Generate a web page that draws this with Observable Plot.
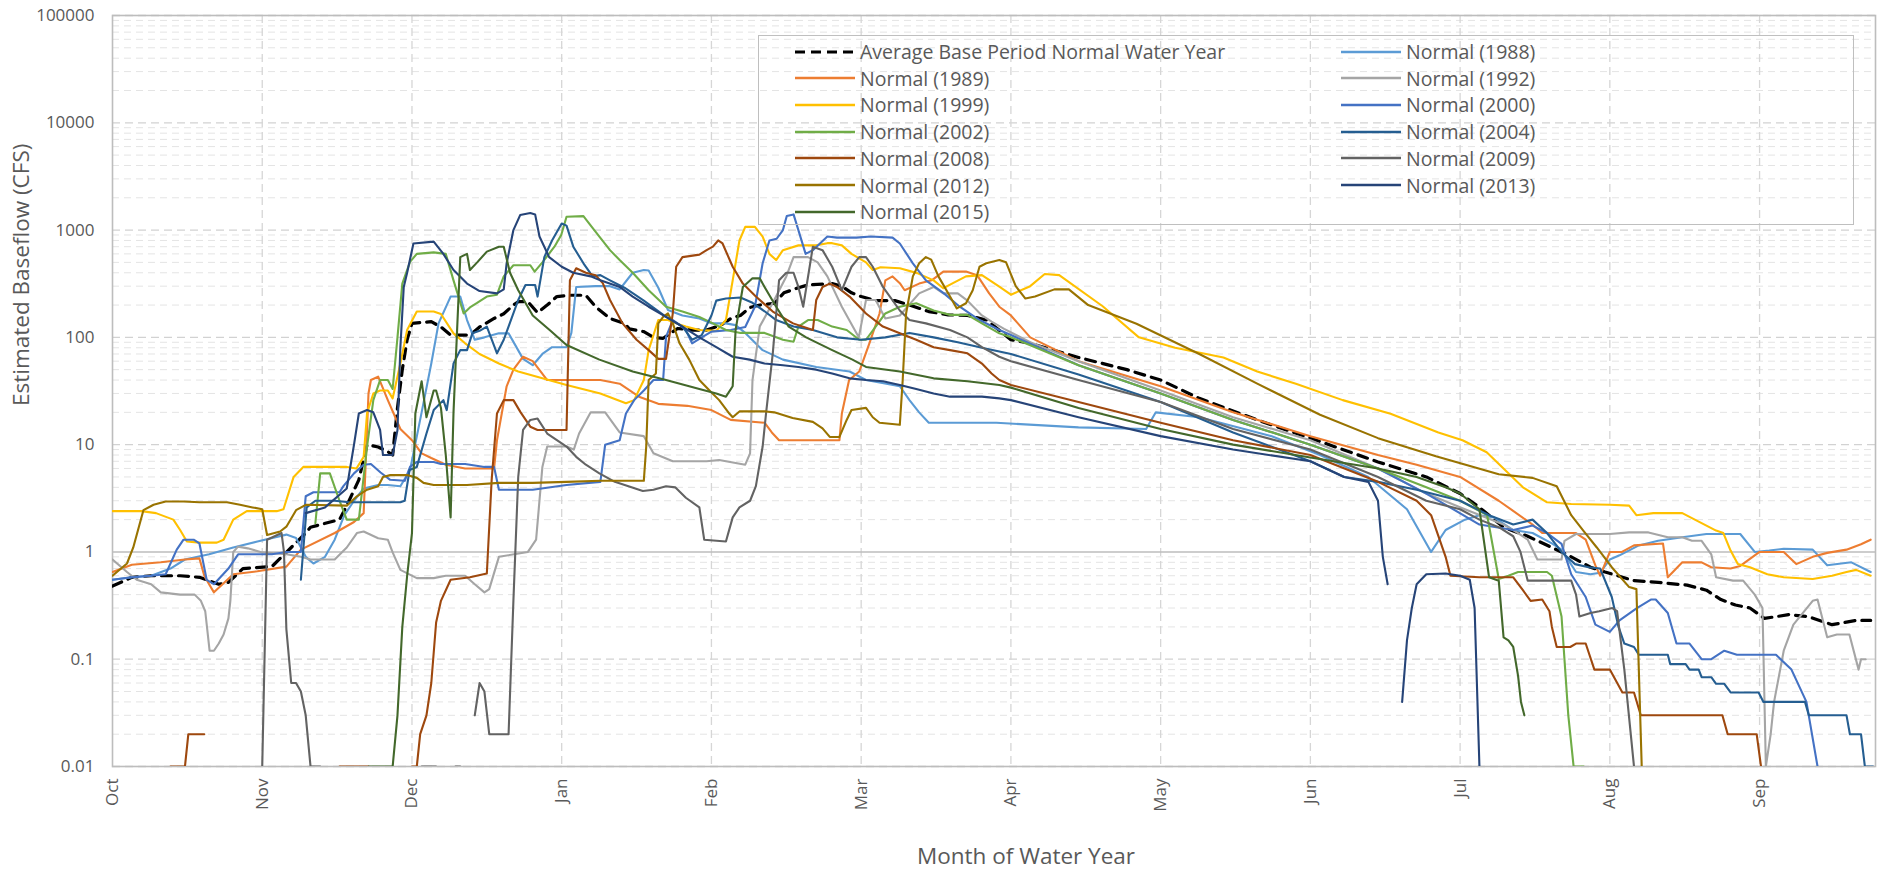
<!DOCTYPE html>
<html><head><meta charset="utf-8">
<script src="https://cdn.jsdelivr.net/npm/d3@7"></script>
<script src="https://cdn.jsdelivr.net/npm/@observablehq/plot@0.6"></script>
<style>
body{margin:0;background:#fff;font-family:"Open Sans",sans-serif;}
#wrap{position:relative;width:1881px;height:871px;overflow:hidden;}
#legend{position:absolute;left:758px;top:35px;width:1096px;height:190px;border:1.5px solid #bfbfbf;box-sizing:border-box;}
.item{position:absolute;display:flex;align-items:center;height:26px;font-size:19.5px;color:#595959;white-space:nowrap;font-family:"Open Sans",sans-serif;}
.item svg{margin-right:5px;}
</style></head><body>
<div id="wrap"><div id="chart"></div><div id="legend"></div></div>
<script>
// ---------- axis / tick data ----------
const monthLabels = ["Oct","Nov","Dec","Jan","Feb","Mar","Apr","May","Jun","Jul","Aug","Sep"];
const monthTicks = [0,31,62,93,124,155,186,217,248,279,310,341];
const yTicks = [0.01,0.1,1,10,100,1000,10000,100000];
const yTickLabels = ["0.01","0.1","1","10","100","1000","10000","100000"];

// ---------- series (day index of water year, baseflow CFS); null = gap ----------
const avgNormal = [[0,0.48],[4,0.58],[8,0.6],[14,0.6],[18,0.58],[22,0.5],[24,0.52],[27,0.7],[33,0.73],[37,1.1],[40,1.5],[41,1.7],[47,2.0],[48.5,2.7],[51,4.7],[52.7,10],[55,9.5],[57,8.6],[58,8],[59,22],[60,50],[61,95],[62,135],[66,140],[68,125],[70,105],[74,105],[76,125],[79,150],[81,166],[83,200],[84,215],[86,215],[88,170],[90,200],[92,240],[94.6,247],[98,247],[100,193],[103,150],[106,135],[107,120],[110,113],[112,100],[114,98],[117,121],[120,117],[123,117],[126,130],[128,150],[130,160],[132,190],[134,200],[137,208],[139,260],[142,290],[144,308],[149,317],[151,300],[153,260],[155,240],[158,220],[162,220],[165,200],[169,174],[173,162],[177,160],[181,145],[186,95],[190,88],[200,65],[210,50],[217,40],[225,27],[237,17],[248,11.5],[262,6.9],[272,5],[279,3.5],[283,2.6],[288,1.7],[293,1.4],[298,1.1],[301,0.95],[306,0.72],[309,0.65],[315,0.54],[320,0.52],[326,0.49],[330,0.44],[333,0.36],[336,0.32],[339,0.3],[342,0.24],[347,0.26],[351,0.25],[356,0.21],[361,0.23],[364,0.23]];
const y1988 = [[0,0.55],[4,0.58],[8,0.6],[12,0.7],[15,0.85],[20,0.95],[25,1.1],[30,1.25],[36,1.45],[38,1.35],[40,0.9],[41.6,0.78],[44,0.9],[46,1.3],[48,2.2],[50,3],[52,3.9],[55,4.2],[57,4.2],[59.6,4.1],[61.6,5.8],[64,20],[66,57],[67.5,135],[70,240],[72,240],[73.4,145],[75,95],[77,100],[80,109],[82,109],[85,63],[87,55],[89,70],[91,81],[94,81],[95,110],[96,295],[100,300],[103,300],[105,280],[107.7,400],[110,425],[111,420],[113,290],[115,180],[118,160],[121.5,150],[124,135],[127,135],[129,130],[131,110],[134.6,76],[138.8,62],[145.7,53],[152.6,48],[156,40],[163,35],[165,26],[167,20],[169,16],[183,16],[200,14.5],[214,14],[216,20],[225,18],[240,12],[250,8],[260,5],[268,2.5],[273,1.0],[276,1.6],[280,2],[283,2.2],[286,2.1],[290,1.6],[294,1.5],[298,1.2],[300,1.05],[303,0.65],[306,0.62],[308,0.64],[310,0.85],[312,0.93],[316,1.15],[320,1.27],[325,1.37],[330,1.47],[337,1.47],[340,1.0],[343,1.03],[346,1.07],[352,1.05],[355,0.75],[360,0.8],[364,0.65]];
const y1989 = [[0,0.65],[4,0.76],[10,0.8],[15,0.85],[18,0.87],[19,0.6],[20,0.5],[21,0.42],[25,0.62],[30,0.66],[36,0.73],[39,1.05],[46,1.5],[50,1.9],[52,2.3],[53,30],[53.5,40],[55,43],[57,26],[59.6,14],[62,11],[64,8.3],[66,7.5],[69,6.5],[73,6],[79,6],[79.6,11],[81.6,35],[83,50],[85,66],[87,60],[90,40],[101,40],[105,37],[109,28],[113,24],[119,23],[124,21],[128,17],[135,16],[136.5,13],[138,11],[150.5,11],[151,19.5],[152.5,40],[154.6,48],[156.7,88],[158.8,167],[160,340],[161.5,370],[163,320],[164,275],[167,317],[169.6,340],[172,410],[176.7,410],[179,380],[181.5,257],[183.6,193],[186,160],[190,100],[200,60],[217,35],[232,20],[248,12],[262,8],[270,6.5],[279,5],[287,3],[294,1.8],[296,1.5],[303,1.5],[305,1.3],[307,0.75],[308,0.6],[310,1.0],[312.5,1.0],[315,1.15],[321,1.2],[322,0.58],[325,0.8],[329,0.8],[331,0.72],[335,0.7],[337,0.74],[341,1.0],[346,1.0],[348.6,0.77],[352,0.9],[355,0.98],[359,1.05],[362,1.18],[364,1.3]];
const y1992 = [[0,0.85],[3,0.65],[5,0.55],[8,0.5],[10,0.42],[14,0.4],[17,0.4],[18.3,0.35],[19.2,0.28],[20.1,0.12],[21,0.12],[22,0.14],[23,0.17],[24,0.24],[24.4,0.35],[25,1.0],[26,1.12],[28,1.08],[31,0.99],[36,0.95],[39,0.9],[41,0.85],[46,0.85],[48.5,1.1],[50.6,1.5],[52,1.55],[55,1.34],[57,1.3],[58,0.99],[59.6,0.68],[63,0.57],[66.5,0.57],[69,0.6],[73,0.6],[75,0.5],[77,0.42],[78,0.45],[80,0.9],[86,1.0],[87.7,1.3],[89,6.2],[90,9.6],[94,9.6],[95.5,9],[96.6,12.7],[99,20],[102,20],[105,13],[110,12],[112,8.3],[116,7],[123,7],[125.6,7.2],[131,6.5],[132,8.3],[132.5,40],[134,126],[137,223],[139.5,370],[141,560],[144,560],[146,500],[148,370],[151,193],[154.5,100],[156,223],[158,223],[160,150],[163,160],[167,257],[170,295],[172,257],[175,257],[177,220],[180,160],[182,140],[184.6,120],[190,90],[200,60],[217,32],[232,18],[248,11],[262,6],[272,3.5],[280,2.5],[288,1.8],[291,1.5],[293,1.3],[295,0.85],[300,0.85],[300.6,1.27],[303,1.47],[310,1.47],[314,1.52],[318,1.52],[322,1.37],[325,1.37],[327,1.27],[329,1.27],[331,0.95],[332,0.58],[335.5,0.54],[337.6,0.54],[340,0.4],[341.6,0.3],[342.3,0.01],[343.3,0.02],[344,0.04],[346,0.12],[348,0.21],[352,0.35],[353,0.36],[355,0.16],[357,0.17],[359.6,0.17],[361.5,0.08],[362,0.1],[363,0.1]];
const y1999 = [[0,2.4],[6,2.4],[9,2.3],[12.6,2.0],[14,1.6],[15.4,1.25],[18,1.22],[21.6,1.22],[23,1.3],[25,2.0],[27.8,2.4],[34,2.4],[35.4,2.5],[37.5,5],[39.5,6.2],[48.5,6.2],[50.5,6],[52,7.7],[52.7,19.6],[54,30],[55.4,32],[57,32],[58,27],[59.6,57],[61,117],[63,174],[66.5,174],[68,165],[70.6,109],[73,88],[76,70],[80,57],[84,48],[89,41.5],[94,36],[101,30],[106.3,24.3],[108,26],[110,40],[111,76],[113,145],[115,145],[116.7,135],[118.7,126],[121.5,117],[125,115],[127,145],[128.4,340],[129.8,800],[131,1070],[133,1070],[134.6,870],[136,600],[137.4,525],[138.8,650],[142,720],[145.6,720],[148,755],[149,755],[151,720],[153,600],[156,500],[157.4,425],[159,450],[163,440],[166.6,397],[170,340],[172,287],[174,320],[176.7,370],[180,380],[183.6,297],[186,250],[190,300],[193,390],[196,380],[205,195],[212.5,100],[220,80],[230,65],[237,48],[245,37],[254.7,26],[264.6,19.4],[274.5,13],[279.5,11],[284.5,8.5],[292,4],[297,2.9],[302,2.8],[310,2.75],[314,2.7],[315.5,2.2],[319,2.3],[325,2.3],[332,1.58],[333.5,1.5],[335,1.03],[336.5,0.77],[339,0.72],[342.6,0.62],[346,0.58],[352,0.56],[356,0.6],[359,0.65],[361,0.68],[364,0.6]];
const y2000 = [[0,0.55],[4,0.58],[8,0.6],[11,0.62],[13.3,1.05],[14.7,1.3],[16.8,1.3],[18,1.2],[19.5,0.55],[21,0.5],[24,0.7],[26,0.95],[33,0.95],[36,1.0],[39,1.0],[40,3.3],[41.6,3.6],[47,3.6],[47.8,4.1],[50,5.4],[52,6.5],[53.5,6.6],[55.5,5.5],[57.5,4.7],[60.5,4.6],[61.6,6.2],[63,6.9],[66.5,6.9],[68,6.6],[73,6.6],[77,6.2],[79,6.2],[80,3.8],[87,3.8],[94,4.2],[101,4.5],[102,10],[105,11],[106.3,19.5],[108,26],[110,32],[112,40],[114,40],[114.6,101],[116,145],[117.5,130],[118.7,117],[120,88],[122,100],[124,113],[128,117],[131,125],[133,193],[134.6,490],[136,800],[137.5,830],[138.8,1000],[139.6,1350],[141,1400],[142,1000],[143.5,600],[145,650],[148,870],[150,850],[154,850],[157,870],[161.5,850],[163,750],[165.7,490],[168.4,340],[172,260],[175.4,193],[179.5,145],[183.6,117],[186,105],[200,55],[217,30],[232,17],[248,10],[262,6],[272,3.5],[283,1.8],[290,1.6],[294,1.76],[297,1.5],[300,1.19],[302,0.62],[305,0.38],[307,0.21],[310,0.18],[312,0.23],[315.6,0.3],[318.5,0.36],[319.5,0.36],[322,0.27],[323.8,0.14],[326.5,0.14],[329,0.1],[331,0.1],[333.7,0.12],[336.3,0.11],[344.4,0.11],[347.6,0.08],[350.7,0.04],[353,0.01]];
const y2002 = [[42,1.85],[43,5.4],[45,5.4],[47,3],[48.5,2],[51,2],[52.7,9.6],[54,26],[55.4,40],[57,40],[58,33],[59,100],[60,317],[61.6,506],[63,600],[66.5,620],[69,600],[70.6,340],[72.7,167],[74,190],[75.4,208],[77.5,240],[79.6,250],[81,370],[83,470],[86.5,470],[87.4,410],[89,500],[91.5,700],[92.9,900],[94,1330],[97.5,1350],[98.7,1150],[100.8,870],[103,650],[105,525],[107.7,400],[111,275],[114.6,193],[118,174],[121.5,155],[124.3,135],[127,117],[130,110],[135,110],[138.8,95],[141,91],[142,126],[144,145],[146,145],[149,126],[152,117],[154.6,95],[156,95],[158,126],[160,167],[163,193],[166.4,208],[170,178],[173.4,162],[177,162],[180,135],[183.6,109],[186,100],[200,55],[217,30],[232,17],[248,10],[262,6],[272,4],[279,3],[284.6,2.2],[287,0.56],[289,0.6],[291,0.65],[297,0.65],[298,0.6],[300,0.25],[301.4,0.03],[302.5,0.01],[304.6,0.01]];
const y2004 = [[39,0.55],[40.2,2.6],[42,3.0],[46,3.0],[49,2.9],[59.6,2.9],[60.5,3.0],[61.5,5.8],[63,6.2],[65,12.7],[66.5,21],[68.5,26],[69.2,21],[70.6,57],[72,76],[73.4,76],[74.5,109],[76,115],[77.5,126],[79.6,71],[81,95],[84,223],[85.5,308],[87.5,308],[88,240],[89.4,560],[91,800],[93,1150],[94,1100],[95.4,700],[97.5,490],[99.4,370],[101,380],[103,340],[106,290],[110,220],[114.6,155],[118,126],[120,95],[122,105],[124,160],[125,220],[127,230],[130,235],[132.5,210],[135,175],[137.4,145],[141,126],[145,117],[150,100],[155,95],[160,100],[165,110],[170,100],[175,90],[180,80],[186,70],[200,45],[217,25],[232,13],[248,7],[255,5],[262,4.5],[270,3.8],[279,3],[285,2.2],[290,1.8],[294,2],[297,1.5],[300,1.0],[302.8,0.77],[305.6,0.72],[308,0.7],[310.4,0.38],[311.8,0.2],[313,0.14],[315,0.13],[316,0.11],[322,0.11],[322.5,0.09],[325.7,0.09],[326.5,0.08],[328.4,0.08],[329,0.068],[331,0.068],[332,0.059],[333.7,0.059],[335,0.049],[340.8,0.049],[341.8,0.04],[350.4,0.04],[351.2,0.03],[359,0.03],[359.7,0.02],[362,0.02],[362.8,0.01],[364.5,0.01]];
const y2008 = [[12,0.01],[15,0.01],[15.7,0.02],[19,0.02],null,[47,0.01],[53,0.01],null,[62,0.01],[63,0.01],[63.7,0.02],[65,0.03],[66,0.06],[67,0.22],[68,0.35],[70,0.55],[74,0.58],[77.5,0.63],[78.5,4.7],[79.6,19.5],[81,26],[83,26],[84.5,20],[86.5,14.7],[88,13.7],[94,13.7],[94.7,340],[96,440],[98,400],[100,380],[101.5,320],[103,223],[105.6,135],[108.5,95],[111,76],[113,63],[114.6,63],[116,167],[116.7,455],[118,560],[121.5,590],[123,650],[124.3,700],[125.4,800],[126.3,750],[128.4,455],[130.5,317],[133.2,240],[136.7,174],[140.9,135],[145,117],[145.7,223],[147,295],[148.5,317],[150,295],[152.6,240],[156,167],[159.5,126],[163,109],[166.4,95],[170,81],[173.4,76],[177,71],[180,57],[182,46],[183.6,40],[186,36],[200,25],[217,16],[232,11],[248,8],[262,4.5],[270,3],[273,2.2],[276,0.9],[277,0.6],[283,0.58],[290,0.58],[292,0.44],[293.6,0.35],[296,0.36],[297.5,0.28],[298,0.2],[299,0.13],[301.8,0.13],[303,0.14],[305,0.14],[306.8,0.08],[310,0.08],[312.6,0.049],[315,0.049],[316.4,0.03],[333.3,0.03],[334.4,0.02],[340.4,0.02],[341.3,0.01]];
const y2009 = [[31,0.01],[32,1.3],[35,1.5],[35.5,1.0],[36,0.19],[37,0.06],[38,0.06],[39,0.05],[40,0.03],[41,0.01],[43,0.01],null,[64,0.01],[67,0.01],null,[71,0.01],[72,0.01],null,[75,0.03],[76,0.06],[77,0.05],[78,0.02],[82,0.02],[83,0.35],[84,5],[85,13.7],[86.5,17],[88,17.5],[90,12.7],[94,9.6],[96,7.7],[98,6.5],[100.8,5.4],[104,4.5],[109.8,3.7],[112,3.8],[114.6,4.1],[116.5,4],[118.7,3.2],[121.5,2.6],[122.5,1.3],[127,1.25],[128.4,2.1],[129.8,2.6],[132,3.0],[133.2,4.1],[134.6,9.6],[135.3,19.5],[136.7,71],[138,340],[139.5,400],[141,400],[142,295],[143,193],[145,700],[147,650],[149,455],[151,275],[153,455],[154.6,560],[156,560],[157.4,455],[159.5,295],[163,178],[165,145],[168.4,135],[173.4,117],[177,100],[180,81],[183.6,66],[186,60],[200,40],[217,25],[232,14],[248,9],[262,5],[272,3],[279,2.5],[283,2],[287,1.7],[290,1.4],[291.5,1.0],[293,0.54],[302,0.54],[303,0.4],[303.7,0.25],[306,0.27],[307.8,0.28],[310.5,0.3],[311.5,0.28],[313,0.08],[315,0.01]];
const y2012 = [[0,0.6],[3,0.78],[4.3,1.1],[6.4,2.45],[8.5,2.75],[11,2.95],[14.7,2.95],[18,2.9],[23.7,2.9],[26.4,2.75],[29,2.6],[31,2.5],[32,1.44],[34.7,1.55],[36,1.72],[38,2.45],[40,2.75],[48.5,2.7],[50.6,3.3],[52.7,3.8],[55,4.1],[56,5],[57.5,5.2],[61,5.2],[63,4.9],[64.4,4.4],[66.5,4.2],[73.4,4.2],[80,4.4],[87,4.4],[94,4.5],[101,4.6],[110,4.6],[110.5,9.6],[111,40],[112.5,46],[113,135],[114,155],[115,167],[116,135],[117.4,88],[119.4,62],[121.5,40],[123.6,32],[125.6,26],[127.7,19.5],[128.4,18],[129.8,20.4],[135.3,20.4],[137,20],[140.8,17.7],[145,16.3],[147,14.2],[148.5,11.8],[150.5,11.8],[152,17],[153,21],[156,22],[157.4,18],[158.8,16],[163,15.3],[163.6,40],[164.3,167],[165.7,370],[167,490],[168.4,560],[169.5,530],[171,370],[173.4,240],[174.8,186],[176.7,208],[178.1,275],[179.5,455],[180.9,490],[183.6,525],[185,500],[187,300],[189,230],[191,240],[195,280],[198,280],[202,200],[212,134],[225,70],[237,37],[250,19],[262,11.5],[274,7.8],[287,5.3],[294,4.9],[299,4.1],[302,2.2],[304.5,1.58],[307.3,1.1],[310.4,0.72],[314,0.47],[315.5,0.45],[316.6,0.01]];
const y2013 = [[40,2.3],[44,2.6],[48.5,3.9],[50,10],[51,19.5],[52.7,21],[54,20],[55.4,13.7],[56,8],[58,8],[59,13.7],[59.6,81],[60.3,295],[61,400],[62.3,750],[66.5,780],[68.5,600],[70.6,425],[73.4,317],[76,270],[79.6,257],[81,280],[81.6,490],[83,1000],[84.4,1380],[86.5,1440],[87.5,1400],[88.4,870],[90.4,560],[93,455],[95.4,400],[99,370],[101,340],[105,295],[107.7,240],[111,193],[114.6,155],[118,126],[121.5,100],[125,81],[128.4,66],[131.9,62],[135,57],[138.8,55],[142,53],[145.7,50],[149,46],[152.6,41.5],[156,40],[159.5,39],[163,36],[166.4,33],[170,30],[173.4,28],[180,28],[183.6,27],[186,26],[200,18],[217,12],[232,9],[248,7],[255,5],[260,4.5],[262,3],[263,0.9],[264,0.5],null,[267,0.04],[268,0.15],[269,0.3],[270,0.5],[272,0.62],[276,0.63],[279,0.6],[281,0.55],[282,0.3],[283,0.01]];
const y2015 = [[53,0.01],[58,0.01],[59,0.03],[60,0.2],[61,0.6],[62,1.5],[62.7,19.5],[64,39],[65,18],[66.5,32],[67,32],[68,22],[69,8],[70,2.1],[70.6,20],[72,560],[73.4,600],[74,425],[75.5,500],[77.5,630],[80,700],[81,700],[82.3,400],[84,275],[87,160],[90.5,117],[94,85],[100.8,62],[107.7,48],[114.6,40],[121.5,33],[125,30],[127,28],[128.4,35],[129,117],[130.5,295],[132.5,355],[134,355],[135,295],[137.4,193],[140,126],[143.6,100],[149,76],[153.2,62],[156,53],[163,48],[170,41.5],[177,39],[183.6,36],[186,34],[200,22],[217,14],[232,10],[248,7.6],[262,6],[270,5],[276,4],[279,3.5],[283,2.5],[285,0.58],[287,0.54],[288,0.16],[289,0.15],[290,0.13],[291,0.07],[291.6,0.04],[292.3,0.03]];

const seriesNames = ["Average Base Period Normal Water Year","Normal (1988)","Normal (1989)","Normal (1992)","Normal (1999)","Normal (2000)","Normal (2002)","Normal (2004)","Normal (2008)","Normal (2009)","Normal (2012)","Normal (2013)","Normal (2015)"];
const seriesData = [avgNormal,y1988,y1989,y1992,y1999,y2000,y2002,y2004,y2008,y2009,y2012,y2013,y2015];
const seriesColors = ["#000000","#5B9BD5","#ED7D31","#A5A5A5","#FFC000","#4472C4","#70AD47","#255E91","#9E480E","#636363","#997300","#264478","#43682B"];

// ---------- build table ----------
const rows = [];
seriesData.forEach((pts, k) => {
  let seg = 0;
  pts.forEach(p => {
    if (p === null) { seg++; return; }
    rows.push({series: seriesNames[k], seg: k + "-" + seg, x: p[0], y: p[1]});
  });
});

const minorGrid = [];
yTicks.slice(0, -1).forEach(d => { for (let m = 2; m <= 9; m++) minorGrid.push(d * m); });

const lineMarks = seriesNames.map((name, k) => Plot.line(rows.filter(r => r.series === name), {
  x: "x", y: "y", z: "seg", stroke: seriesColors[k],
  strokeWidth: k === 0 ? 3.2 : 2.1,
  strokeDasharray: k === 0 ? "10,7" : null,
  strokeLinejoin: "round", curve: "linear", clip: true
}));

const chart = Plot.plot({
  width: 1881, height: 871,
  marginLeft: 112, marginRight: 6, marginTop: 15, marginBottom: 105,
  style: {fontFamily: "'Open Sans', sans-serif", color: "#595959", background: "white"},
  x: {type: "linear", domain: [0, 365], axis: null},
  y: {type: "log", domain: [0.01, 100000], axis: null},
  marks: [
    Plot.ruleY(minorGrid, {stroke: "#e4e4e4", strokeDasharray: "7,5", strokeWidth: 1}),
    Plot.ruleY(yTicks.filter(d => d !== 1), {stroke: "#d2d2d2", strokeDasharray: "8,5", strokeWidth: 1.3}),
    Plot.ruleX(monthTicks.slice(1), {stroke: "#d6d6d6", strokeDasharray: "8,5", strokeWidth: 1.3}),
    Plot.ruleY([1], {stroke: "#bdbdbd", strokeWidth: 1.6}),
    Plot.frame({stroke: "#bdbdbd", strokeWidth: 1.6}),
    ...lineMarks,
    Plot.axisY({ticks: yTicks, tickFormat: d => yTickLabels[yTicks.indexOf(d)], tickSize: 0, tickPadding: 18, fontSize: 17, label: null}),
    Plot.axisX({ticks: monthTicks, tickFormat: d => monthLabels[monthTicks.indexOf(d)], tickSize: 0, tickPadding: 12, tickRotate: -90, fontSize: 17, label: null}),
    Plot.text(["Month of Water Year"], {frameAnchor: "bottom", dx: 32, dy: 97, fontSize: 22.5, fill: "#595959"}),
    Plot.text(["Estimated Baseflow (CFS)"], {frameAnchor: "left", dx: -91, dy: 15, rotate: -90, fontSize: 22.5, fill: "#595959"})
  ]
});
document.getElementById("chart").appendChild(chart);

// ---------- legend ----------
const legend = document.getElementById("legend");
seriesNames.forEach((name, k) => {
  const row = Math.floor(k / 2), col = k % 2;
  const item = document.createElement("div");
  item.className = "item";
  item.style.left = (col === 0 ? 36 : 582) + "px";
  item.style.top = (2.5 + row * 26.7) + "px";
  const dash = k === 0 ? ' stroke-dasharray="10,6"' : '';
  item.innerHTML = `<svg width="60" height="6"><line x1="0" y1="3" x2="60" y2="3" stroke="${seriesColors[k]}" stroke-width="${k === 0 ? 3.2 : 2.6}"${dash}/></svg><span>${name}</span>`;
  legend.appendChild(item);
});
</script>
</body></html>
